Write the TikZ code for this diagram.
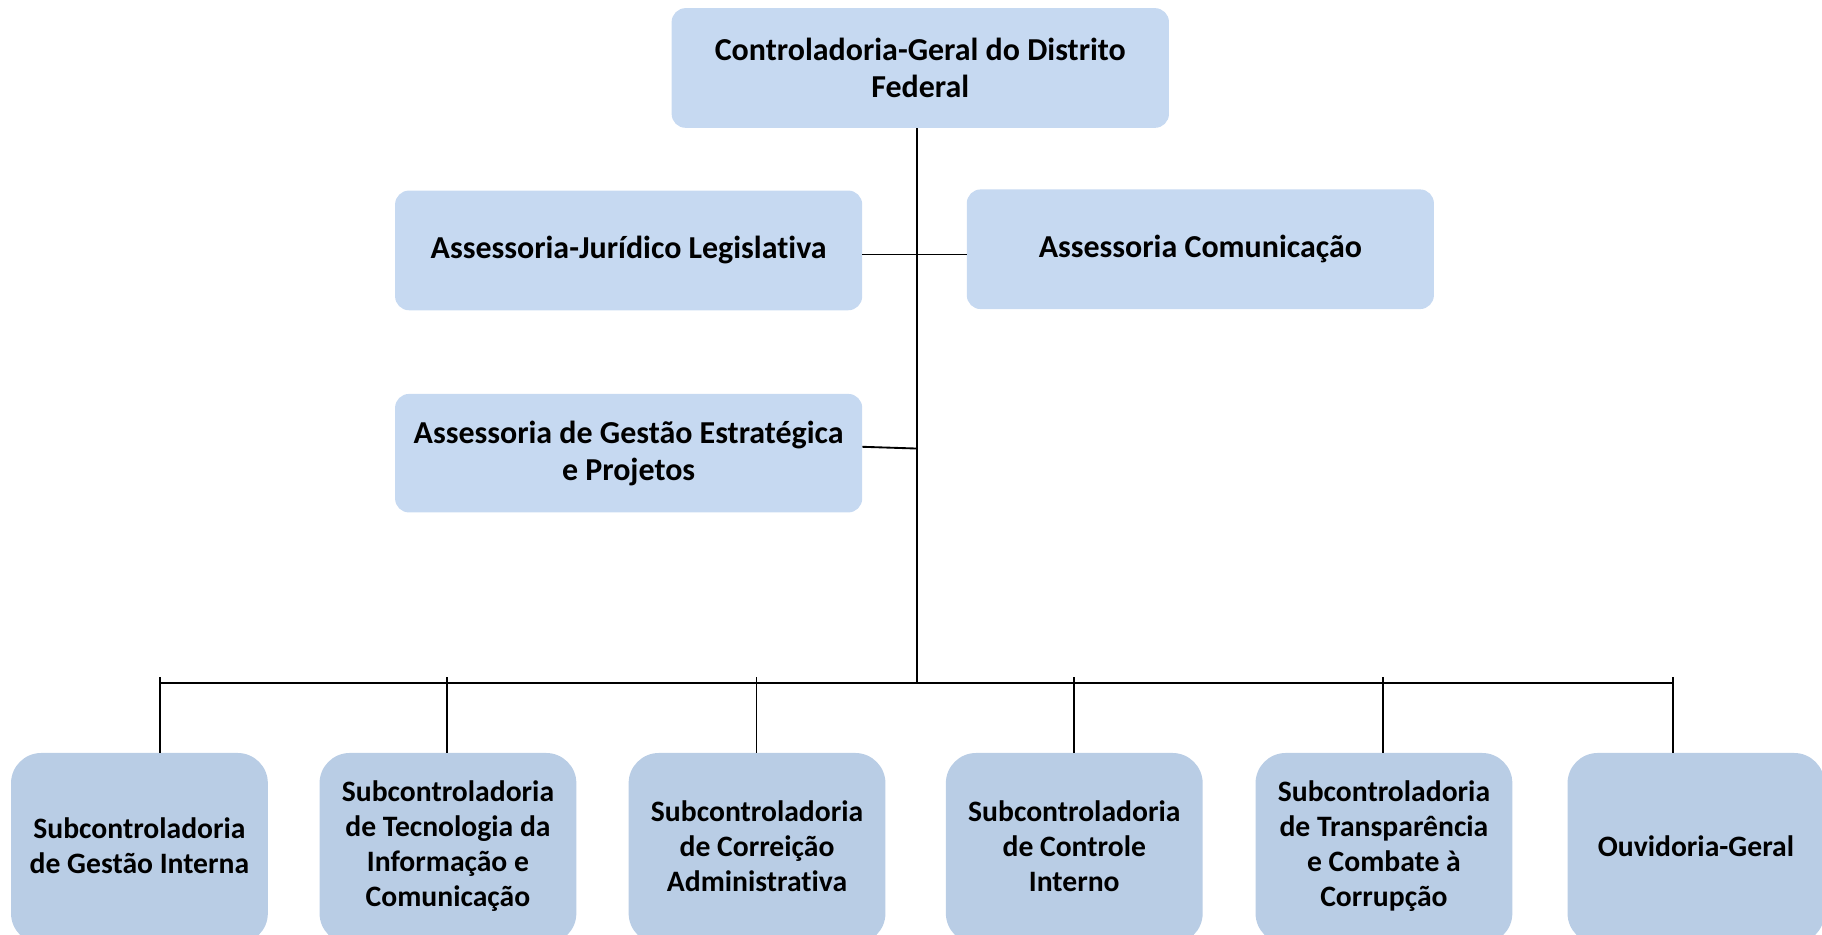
\documentclass[tikz,border=0pt]{standalone}
\usepackage{fontspec}
\setmainfont{Carlito}[Ligatures=NoCommon]
\definecolor{topblue}{HTML}{C6D9F1}
\definecolor{botblue}{HTML}{B9CDE5}
\begin{document}
\begin{tikzpicture}[x=1pt,y=-1pt,
  lbl/.style={font=\fontsize{25.5}{30}\selectfont\bfseries, align=center, text=black},
  toplbl/.style={font=\fontsize{27.5}{32}\selectfont\bfseries, align=center, text=black},
  topbox/.style={fill=topblue, draw=none, rounded corners=12pt, inner sep=0pt},
  botbox/.style={fill=botblue, draw=none, rounded corners=26pt, inner sep=0pt,
     minimum width=221pt, minimum height=164pt},
  conn/.style={draw=black, line width=1.6pt}]
\useasboundingbox (0,0) rectangle (1568,804);
\clip (0,0) rectangle (1568,804);
% top level
\node[topbox, minimum width=428pt, minimum height=103pt] (cg) at (792,58.5) {};
\node[toplbl] at (cg) {Controladoria-Geral do Distrito\\Federal};
\node[topbox, minimum width=402pt, minimum height=103pt] (aj) at (541,215.5) {};
\node[toplbl] at (aj) {Assessoria-Jurídico Legislativa};
\node[topbox, minimum width=402pt, minimum height=103pt] (ac) at (1033,214.5) {};
\node[toplbl] at (ac) {Assessoria Comunicação};
\node[topbox, minimum width=402pt, minimum height=102pt] (ag) at (541,390) {};
\node[toplbl] at (ag) {Assessoria de Gestão Estratégica\\e Projetos};
% bottom level
\node[botbox] (s1) at (120,730) {};
\node[lbl] at (120,728) {Subcontroladoria\\de Gestão Interna};
\node[botbox] (s2) at (385.5,730) {};
\node[lbl] at (385.5,728) {Subcontroladoria\\de Tecnologia da\\Informação e\\Comunicação};
\node[botbox] (s3) at (651.5,730) {};
\node[lbl] at (651.5,728) {Subcontroladoria\\de Correição\\Administrativa};
\node[botbox] (s4) at (924.5,730) {};
\node[lbl] at (924.5,728) {Subcontroladoria\\de Controle\\Interno};
\node[botbox] (s5) at (1191,730) {};
\node[lbl] at (1191,728) {Subcontroladoria\\de Transparência\\e Combate à\\Corrupção};
\node[botbox] (s6) at (1459.5,730) {};
\node[lbl] at (1459.5,728) {Ouvidoria-Geral};
% connectors
\coordinate (bus) at (789,588);
\coordinate (jl) at (789,219);
\coordinate (jg) at (789,386);
\draw[conn] (cg.south -| bus) -- (bus);
\draw[conn] (aj.east |- jl) -- (ac.west |- jl);
\draw[conn] ([yshift=1.5pt]ag.east |- jg) -- (jg);
\draw[conn] (138,588) -- (1440,588);
\foreach \x/\n in {138/s1,385/s2,651/s3,924/s4,1190/s5,1440/s6}{
  \draw[conn] (\x,583) -- (\x,588) -- (\x,0 |- \n.north);
}
\end{tikzpicture}
\end{document}
